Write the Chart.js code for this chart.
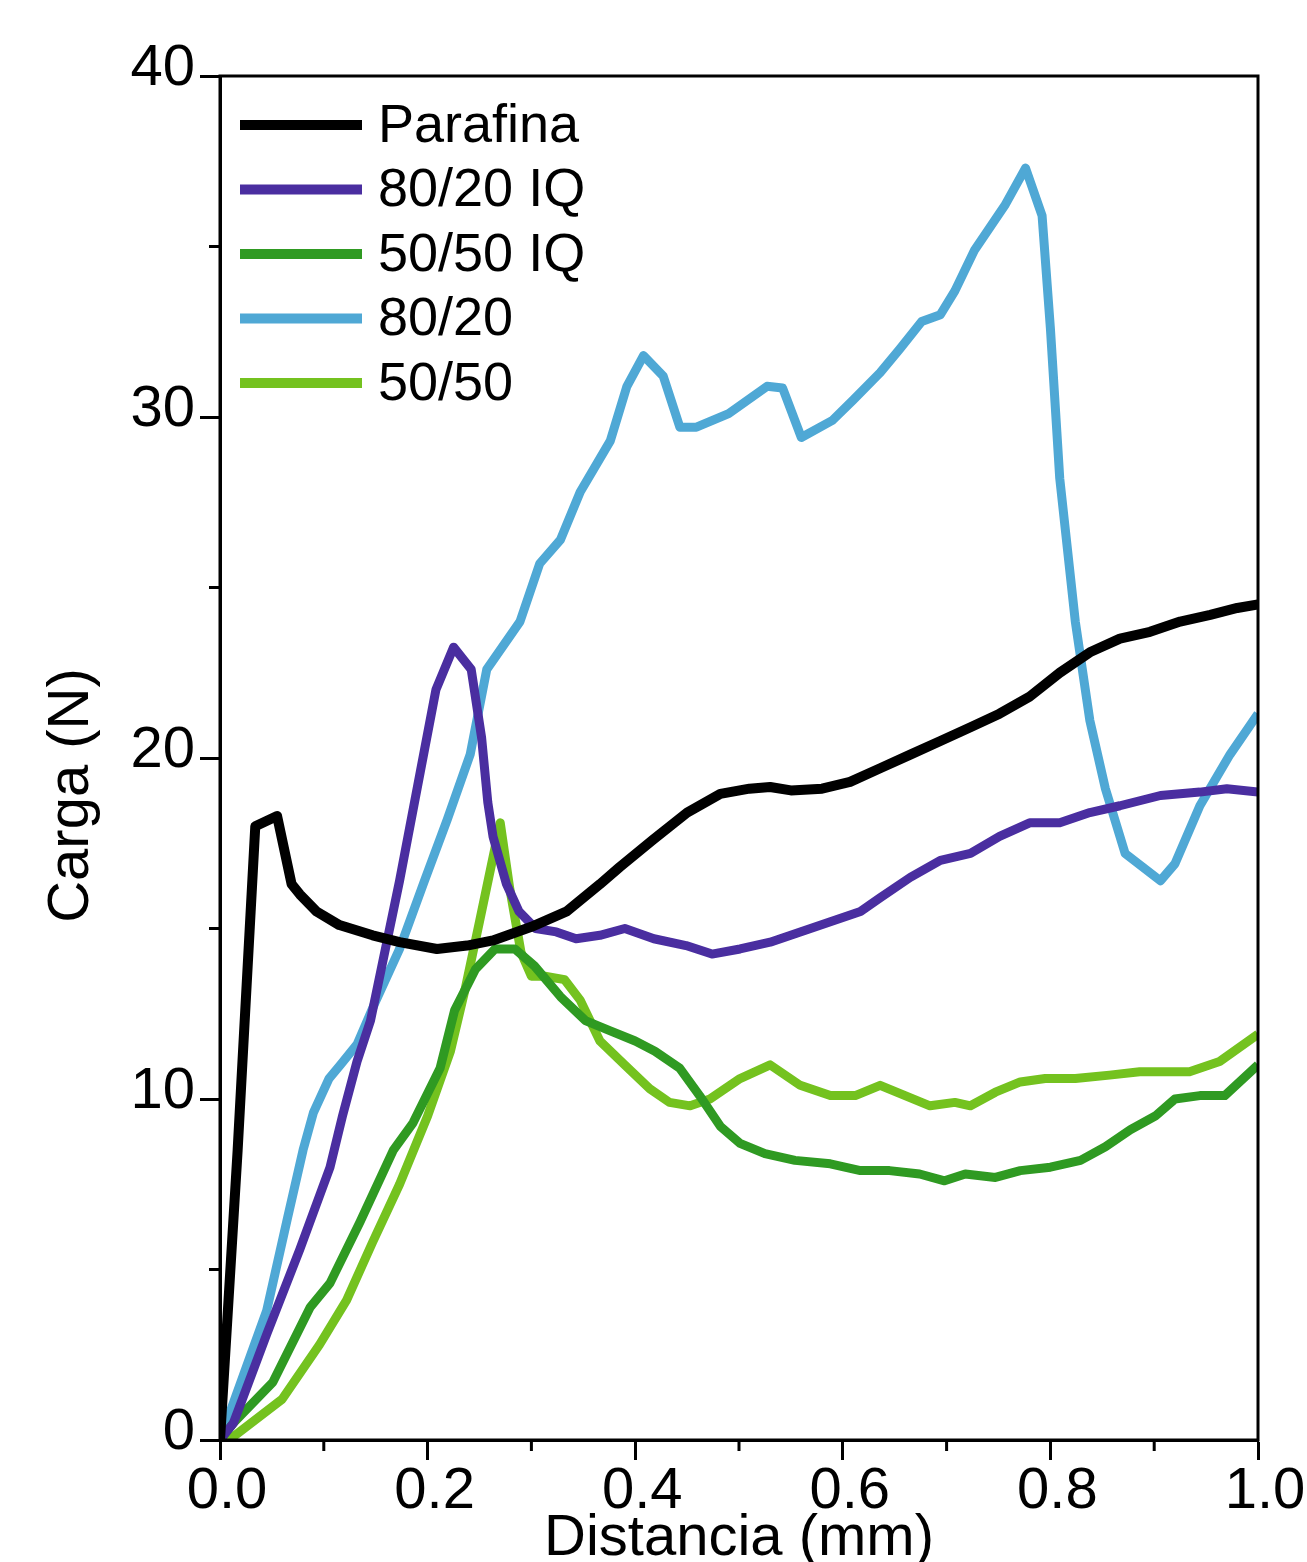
<!DOCTYPE html>
<html>
<head>
<meta charset="utf-8">
<script src="https://cdn.jsdelivr.net/npm/chart.js@4.4.1/dist/chart.umd.min.js"></script>
<style>
  html, body { margin: 0; padding: 0; background: #fff; }
  #wrap { width: 1307px; height: 1562px; }
</style>
</head>
<body>
<div id="wrap"><canvas id="chart"></canvas></div>
<script>
// Distancia (mm) / Carga (N) readings for each sample
const parafinaX = [0, 0.017, 0.034, 0.055, 0.069, 0.077, 0.093, 0.115, 0.147, 0.173, 0.209, 0.238, 0.263, 0.30, 0.334, 0.366, 0.385, 0.417, 0.45, 0.482, 0.51, 0.53, 0.55, 0.58, 0.607, 0.636, 0.665, 0.694, 0.723, 0.751, 0.78, 0.809, 0.838, 0.867, 0.896, 0.925, 0.954, 0.98, 1.0];
const parafinaY = [0, 8.5, 18.0, 18.3, 16.3, 16.0, 15.5, 15.1, 14.8, 14.6, 14.4, 14.5, 14.65, 15.05, 15.5, 16.3, 16.8, 17.6, 18.4, 18.95, 19.1, 19.15, 19.05, 19.1, 19.3, 19.7, 20.1, 20.5, 20.9, 21.3, 21.8, 22.5, 23.1, 23.5, 23.7, 24.0, 24.2, 24.4, 24.5];

const iq8020X = [0, 0.013, 0.045, 0.077, 0.106, 0.118, 0.132, 0.145, 0.173, 0.193, 0.208, 0.225, 0.242, 0.252, 0.258, 0.263, 0.276, 0.288, 0.304, 0.324, 0.343, 0.366, 0.39, 0.418, 0.449, 0.474, 0.501, 0.53, 0.559, 0.588, 0.617, 0.636, 0.665, 0.694, 0.723, 0.751, 0.78, 0.809, 0.838, 0.867, 0.906, 0.944, 0.97, 1.0];
const iq8020Y = [0, 0.5, 3.1, 5.6, 8.0, 9.5, 11.1, 12.3, 16.4, 19.6, 22.0, 23.25, 22.6, 20.6, 18.7, 17.7, 16.3, 15.5, 15.0, 14.9, 14.7, 14.8, 15.0, 14.7, 14.5, 14.25, 14.4, 14.6, 14.9, 15.2, 15.5, 15.9, 16.5, 17.0, 17.2, 17.7, 18.1, 18.1, 18.4, 18.6, 18.9, 19.0, 19.1, 19.0];

const iq5050X = [0, 0.013, 0.051, 0.087, 0.106, 0.135, 0.167, 0.186, 0.212, 0.226, 0.246, 0.265, 0.284, 0.303, 0.328, 0.352, 0.376, 0.4, 0.419, 0.443, 0.462, 0.482, 0.501, 0.525, 0.554, 0.588, 0.617, 0.645, 0.674, 0.698, 0.718, 0.747, 0.771, 0.8, 0.829, 0.853, 0.877, 0.901, 0.92, 0.944, 0.968, 1.0];
const iq5050Y = [0, 0.5, 1.7, 3.9, 4.6, 6.4, 8.5, 9.3, 10.9, 12.6, 13.8, 14.4, 14.4, 13.9, 13.0, 12.3, 12.0, 11.7, 11.4, 10.9, 10.1, 9.2, 8.7, 8.4, 8.2, 8.1, 7.9, 7.9, 7.8, 7.6, 7.8, 7.7, 7.9, 8.0, 8.2, 8.6, 9.1, 9.5, 10.0, 10.1, 10.1, 11.0];

const m8020X = [0, 0.045, 0.065, 0.08, 0.09, 0.105, 0.116, 0.132, 0.149, 0.173, 0.197, 0.219, 0.241, 0.257, 0.289, 0.308, 0.328, 0.347, 0.376, 0.392, 0.408, 0.427, 0.443, 0.459, 0.49, 0.527, 0.542, 0.56, 0.59, 0.61, 0.636, 0.655, 0.676, 0.694, 0.708, 0.727, 0.756, 0.776, 0.792, 0.8, 0.809, 0.824, 0.838, 0.853, 0.872, 0.906, 0.92, 0.944, 0.973, 1.0];
const m8020Y = [0, 3.8, 6.5, 8.5, 9.6, 10.6, 11.0, 11.6, 12.8, 14.4, 16.4, 18.2, 20.1, 22.6, 24.0, 25.7, 26.4, 27.8, 29.3, 30.9, 31.8, 31.2, 29.7, 29.7, 30.1, 30.9, 30.85, 29.4, 29.9, 30.5, 31.3, 32.0, 32.8, 33.0, 33.7, 34.9, 36.2, 37.3, 35.9, 32.6, 28.2, 24.0, 21.1, 19.1, 17.2, 16.4, 16.9, 18.6, 20.1, 21.3];

const m5050X = [0, 0.013, 0.06, 0.096, 0.122, 0.147, 0.173, 0.2, 0.222, 0.236, 0.25, 0.27, 0.279, 0.29, 0.3, 0.313, 0.332, 0.347, 0.366, 0.39, 0.414, 0.433, 0.453, 0.472, 0.501, 0.53, 0.559, 0.588, 0.612, 0.636, 0.66, 0.684, 0.708, 0.723, 0.747, 0.771, 0.795, 0.824, 0.857, 0.886, 0.934, 0.963, 1.0];
const m5050Y = [0, 0.1, 1.2, 2.8, 4.1, 5.8, 7.5, 9.5, 11.4, 13.2, 15.2, 18.1, 16.2, 14.3, 13.6, 13.6, 13.5, 12.9, 11.7, 11.0, 10.3, 9.9, 9.8, 10.0, 10.6, 11.0, 10.4, 10.1, 10.1, 10.4, 10.1, 9.8, 9.9, 9.8, 10.2, 10.5, 10.6, 10.6, 10.7, 10.8, 10.8, 11.1, 11.9];

const seriesLabels = ['Parafina', '80/20 IQ', '50/50 IQ', '80/20', '50/50'];
const seriesColors = ['#000000', '#4a2ea0', '#2f9a22', '#4fa8d5', '#74c21f'];
const xMajorTicks = [0, 0.2, 0.4, 0.6, 0.8, 1.0];
const xMinorTicks = [0.1, 0.3, 0.5, 0.7, 0.9];
const yMajorTicks = [0, 10, 20, 30, 40];
const yMinorTicks = [5, 15, 25, 35];

const pairs = (xs, ys) => xs.map((x, i) => ({ x: x, y: ys[i] }));
const seriesData = [
    pairs(parafinaX, parafinaY),
    pairs(iq8020X, iq8020Y),
    pairs(iq5050X, iq5050Y),
    pairs(m8020X, m8020Y),
    pairs(m5050X, m5050Y)
];

const FONT = 'Liberation Sans, Arial, sans-serif';

// frame, minor ticks, y title and the in-plot legend
const decorPlugin = {
    id: 'decor',
    afterDraw(chart) {
        const { ctx, chartArea: a, scales: { x, y } } = chart;
        ctx.save();
        ctx.strokeStyle = '#000';
        ctx.lineWidth = 3;
        ctx.strokeRect(a.left, a.top, a.right - a.left, a.bottom - a.top);

        ctx.beginPath();
        xMinorTicks.forEach(v => {
            const px = x.getPixelForValue(v);
            ctx.moveTo(px, a.bottom);
            ctx.lineTo(px, a.bottom + 11);
        });
        yMinorTicks.forEach(v => {
            const py = y.getPixelForValue(v);
            ctx.moveTo(a.left, py);
            ctx.lineTo(a.left - 11, py);
        });
        ctx.stroke();

        // y axis title
        ctx.fillStyle = '#000';
        ctx.font = '58px ' + FONT;
        ctx.textAlign = 'center';
        ctx.textBaseline = 'middle';
        ctx.translate(72, y.getPixelForValue(18.9));
        ctx.rotate(-Math.PI / 2);
        ctx.fillText('Carga (N)', 0, 0);
        ctx.restore();

        // legend
        ctx.save();
        ctx.font = '54px ' + FONT;
        ctx.textBaseline = 'middle';
        ctx.textAlign = 'left';
        chart.data.datasets.forEach((ds, i) => {
            const ly = a.top + 49 + i * 64.5;
            ctx.strokeStyle = ds.borderColor;
            ctx.lineWidth = 10;
            ctx.beginPath();
            ctx.moveTo(a.left + 20, ly);
            ctx.lineTo(a.left + 142, ly);
            ctx.stroke();
            ctx.fillStyle = '#000';
            ctx.fillText(ds.label, a.left + 158, ly + 2);
        });
        ctx.restore();
    }
};

const ctx = document.getElementById('chart').getContext('2d');
new Chart(ctx, {
    type: 'line',
    data: {
        datasets: seriesLabels.map((label, i) => ({
            label: label,
            data: seriesData[i],
            borderColor: seriesColors[i],
            backgroundColor: seriesColors[i],
            borderWidth: i === 0 ? 10 : 9,
            pointRadius: 0,
            tension: 0,
            fill: false,
            borderJoinStyle: 'round'
        }))
    },
    options: {
        responsive: true,
        maintainAspectRatio: false,
        animation: false,
        layout: { padding: { top: 76, right: 49, left: 0, bottom: 0 } },
        plugins: {
            legend: { display: false },
            tooltip: { enabled: false }
        },
        scales: {
            x: {
                type: 'linear',
                min: 0,
                max: 1,
                afterBuildTicks: scale => { scale.ticks = xMajorTicks.map(v => ({ value: v })); },
                afterFit: scale => { scale.height = 122; },
                ticks: {
                    color: '#000',
                    font: { family: FONT, size: 58 },
                    padding: -3,
                    labelOffset: 7,
                    maxRotation: 0,
                    autoSkip: false,
                    callback: v => v.toFixed(1)
                },
                grid: { drawOnChartArea: false, drawTicks: true, tickLength: 20, tickWidth: 3, tickColor: '#000' },
                border: { display: true, color: '#000', width: 3 },
                title: {
                    display: true,
                    text: 'Distancia (mm)',
                    color: '#000',
                    font: { family: FONT, size: 58, lineHeight: 0.8 },
                    padding: 0
                }
            },
            y: {
                type: 'linear',
                min: 0,
                max: 40,
                afterBuildTicks: scale => { scale.ticks = yMajorTicks.map(v => ({ value: v })); },
                afterFit: scale => { scale.width = 220; },
                ticks: {
                    color: '#000',
                    font: { family: FONT, size: 58 },
                    padding: 5,
                    labelOffset: -7,
                    autoSkip: false
                },
                grid: { drawOnChartArea: false, drawTicks: true, tickLength: 20, tickWidth: 3, tickColor: '#000' },
                border: { display: true, color: '#000', width: 3 }
            }
        }
    },
    plugins: [decorPlugin]
});
</script>
</body>
</html>
